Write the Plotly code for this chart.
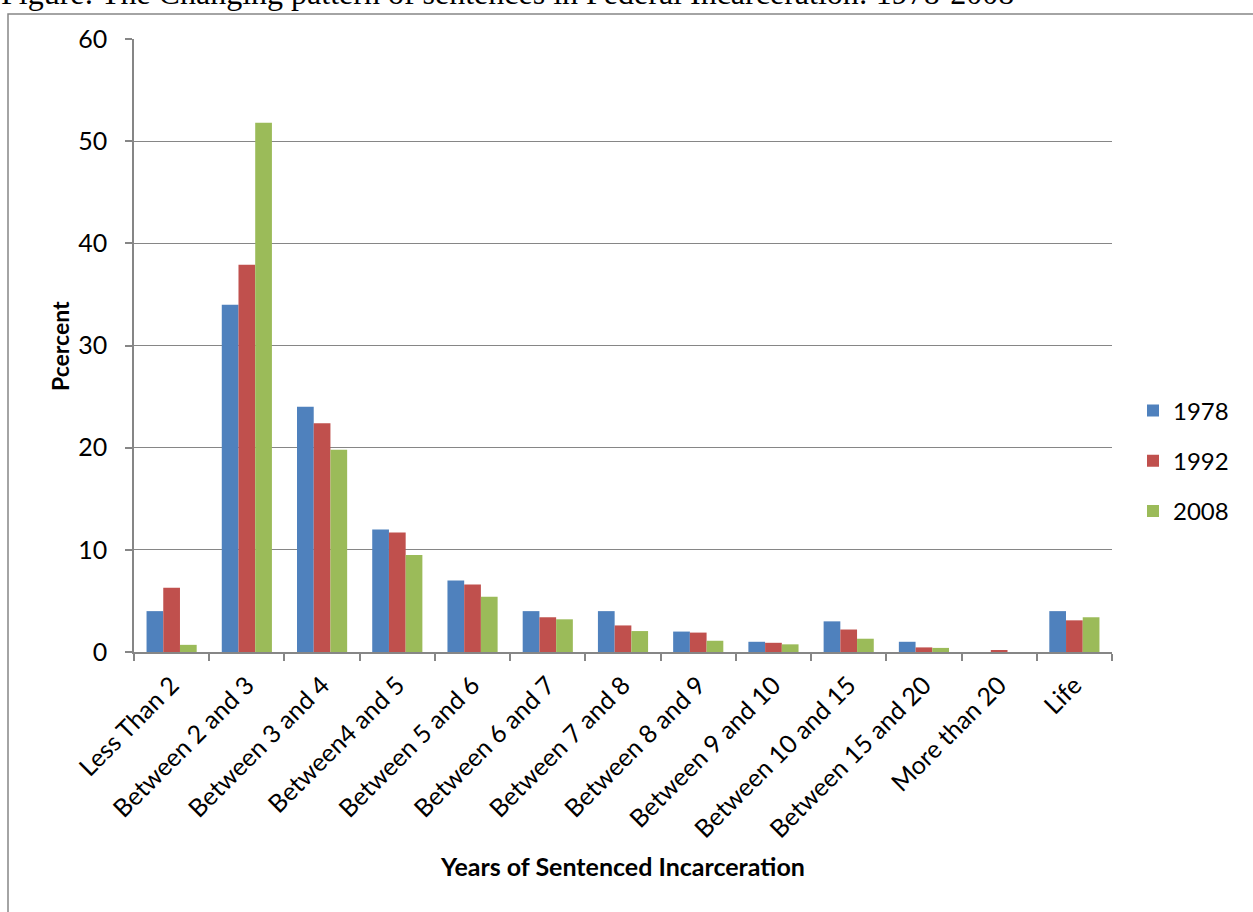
import plotly.graph_objects as go

categories = ["Less Than 2", "Between 2 and 3", "Between 3 and 4", "Between4 and 5",
              "Between 5 and 6", "Between 6 and 7", "Between 7 and 8", "Between 8 and 9",
              "Between 9 and 10", "Between 10 and 15", "Between 15 and 20", "More than 20", "Life"]
v1978 = [4.0, 34.0, 24.0, 12.0, 7.0, 4.0, 4.0, 2.0, 1.0, 3.0, 1.0, 0.0, 4.0]
v1992 = [6.3, 37.9, 22.4, 11.7, 6.6, 3.4, 2.6, 1.9, 0.9, 2.2, 0.45, 0.17, 3.1]
v2008 = [0.7, 51.8, 19.8, 9.5, 5.4, 3.2, 2.05, 1.1, 0.75, 1.3, 0.4, 0.0, 3.4]
series_names = ["1978", "1992", "2008"]
colors = ["#4F81BD", "#C0504D", "#9BBB59"]
y_ticks = [0, 10, 20, 30, 40, 50, 60]

W, H = 1253, 912
L, R, T, B = 134, 141, 39, 260
PW, PH = W - L - R, H - T - B

def px_x(px):
    return (px - L) / PW

def px_y(py):
    return (H - B - py) / PH

FONT = "Lato, Carlito, Calibri, sans-serif"
GRAY = "#868686"

fig = go.Figure()
for i, (name, vals) in enumerate(zip(series_names, [v1978, v1992, v2008])):
    fig.add_trace(go.Bar(
        x=categories, y=vals, name=name,
        marker=dict(color=colors[i], line=dict(width=0)),
        legendgroup=name,
    ))

fig.update_layout(
    width=W, height=H,
    margin=dict(l=L, r=R, t=T, b=B, pad=0),
    paper_bgcolor="white", plot_bgcolor="white",
    font=dict(family=FONT, size=24, color="#000000"),
    barmode="group", bargap=1.5 / 4.5, bargroupgap=0,
    showlegend=True,
    legend=dict(x=px_x(1133), y=px_y(461), xanchor="left", yanchor="middle",
                font=dict(family=FONT, size=24, color="#000000"),
                tracegroupgap=16, bgcolor="rgba(0,0,0,0)"),
    xaxis=dict(
        type="category", showline=True, linecolor=GRAY, linewidth=1.5,
        ticks="outside", ticklen=7, tickcolor=GRAY, tickwidth=1.5,
        tickson="boundaries", tickangle=-45, showgrid=False,
        ticklabelstandoff=7,
        tickfont=dict(family=FONT, size=25, color="#000000"),
        fixedrange=True,
    ),
    yaxis=dict(
        range=[0, 60], tickvals=y_ticks, ticktext=[str(v) for v in y_ticks],
        showgrid=True, gridcolor=GRAY, gridwidth=1,
        showline=True, linecolor=GRAY, linewidth=1.5,
        ticks="outside", ticklen=7, tickcolor=GRAY, tickwidth=1.5,
        zeroline=False, ticklabelstandoff=13,
        tickfont=dict(family=FONT, size=25, color="#000000"),
    ),
    shapes=[dict(type="rect", xref="paper", yref="paper",
                 x0=px_x(8), x1=px_x(1265), y0=px_y(925), y1=px_y(14),
                 line=dict(color=GRAY, width=1.5), fillcolor="rgba(0,0,0,0)", layer="below")],
    annotations=[
        dict(text="Figure: The Changing pattern of sentences in Federal Incarceration: 1978-2008",
             xref="paper", yref="paper", x=px_x(-1), y=px_y(13), xanchor="left", yanchor="bottom",
             showarrow=False, font=dict(family="Liberation Serif, Times New Roman, serif", size=32, color="#000000")),
        dict(text="<b>Pcercent</b>", xref="paper", yref="paper", x=px_x(60), y=px_y(346),
             xanchor="center", yanchor="middle", textangle=-90, showarrow=False,
             font=dict(family=FONT, size=23, color="#000000")),
        dict(text="<b>Years of Sentenced Incarceration</b>", xref="paper", yref="paper",
             x=px_x(622), y=px_y(866), xanchor="center", yanchor="middle", showarrow=False,
             font=dict(family=FONT, size=25, color="#000000")),
    ],
)

fig.write_html("out.html")
